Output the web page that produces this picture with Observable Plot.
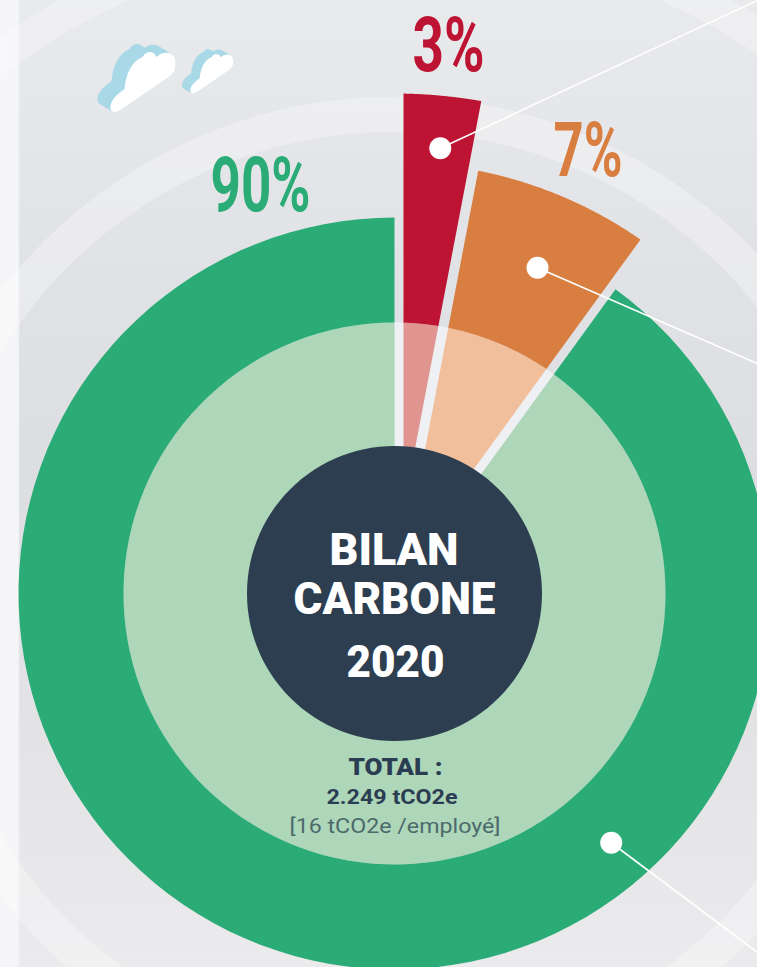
<!DOCTYPE html>
<html lang="fr">
<head>
<meta charset="utf-8">
<title>Bilan carbone 2020</title>
<script src="https://cdn.jsdelivr.net/npm/d3@7"></script>
<script src="https://cdn.jsdelivr.net/npm/@observablehq/plot@0.6"></script>
<style>
  html, body { margin: 0; padding: 0; overflow: hidden; }
  body {
    width: 757px; height: 967px;
    background:
      linear-gradient(90deg, #f6f6f8 0, #f4f5f7 18px, rgba(244,245,247,0) 20px),
      linear-gradient(180deg, #e9eaec 0%, #e1e2e6 28%, #dddee2 48%, #e3e3e6 75%, #ebebed 100%);
  }
  svg { display: block; background: transparent !important; }
</style>
</head>
<body>
<div id="chart"></div>
<script>
// Data
const categories = ["Vert", "Rouge", "Orange"];
const shares = [90, 3, 7];
const shareLabels = ["90%", "3%", "7%"];
const strongColors = ["#2bac76", "#bd1433", "#d97e41"];
const paleColors = ["#aed6b8", "#e09590", "#f1bf9c"];
const reach = [376, 500, 431];
const titleLines = ["BILAN", "CARBONE", "2020"];
const totalLines = ["TOTAL :", "2.249 tCO2e", "[16 tCO2e /employé]"];

// Slices run clockwise from 12 o'clock: red, orange, then green
const order = [1, 2, 0];
let running = 0;
const slices = order.map((i) => {
  const start = running * 3.6;
  running += shares[i];
  return {name: categories[i], start, end: running * 3.6};
});
const byName = Object.fromEntries(slices.map((s) => [s.name, s]));

const rad = Math.PI / 180;
function sector(key, start, end, inner, outer, padStart = 0, padEnd = 0) {
  const n = 120;
  const at = (r, t) => {
    const a0 = start * rad + Math.asin(padStart / r);
    const a1 = end * rad - Math.asin(padEnd / r);
    const a = a0 + t * (a1 - a0);
    return [r * Math.sin(a), r * Math.cos(a)];
  };
  return d3.range(n + 1).map((i) => {
    const [x1, y1] = at(inner, i / n);
    const [x2, y2] = at(outer, i / n);
    return {key, x1, y1, x2, y2};
  });
}
const polar = (r, deg) => ({x: r * Math.sin(deg * rad), y: r * Math.cos(deg * rad)});

const hub = 147.5, mid = 271;
const pads = {Vert: [0, 0], Rouge: [9, 7], Orange: [3, 9]};

function wedges(name) {
  const i = categories.indexOf(name);
  const s = byName[name];
  const [pa, pb] = pads[name];
  return [
    Plot.area(sector(name + "-pale", s.start, s.end, hub - 1, mid, pa, pb),
      {x1: "x1", y1: "y1", x2: "x2", y2: "y2", fill: paleColors[i], curve: "linear"}),
    Plot.area(sector(name + "-strong", s.start, s.end, mid, reach[i], pa, pb),
      {x1: "x1", y1: "y1", x2: "x2", y2: "y2", fill: strongColors[i], curve: "linear"})
  ];
}

const ring = (inner, outer, opacity) =>
  Plot.area(sector("ring", 0, 360, inner, outer),
    {x1: "x1", y1: "y1", x2: "x2", y2: "y2", fill: "#ffffff", fillOpacity: opacity});

// Isometric cloud glyph, passed to Plot.dot as a symbol; r sets its scale
const cloudSymbol = {
  draw(c, size) {
    const k = Math.sqrt(size / Math.PI) / 32;
    const P = (x, y) => [x * k, y * k];
    c.moveTo(...P(-32, 28));
    c.bezierCurveTo(...P(-33, 20), ...P(-26, 14), ...P(-18, 8));
    c.bezierCurveTo(...P(-17, -6), ...P(-11, -20), ...P(0, -24));
    c.bezierCurveTo(...P(4, -30), ...P(11, -31), ...P(14, -24));
    c.bezierCurveTo(...P(20, -30), ...P(31, -30), ...P(33, -21));
    c.bezierCurveTo(...P(34, -11), ...P(31, -7), ...P(25, -3));
    c.lineTo(...P(-22, 29));
    c.bezierCurveTo(...P(-27, 32), ...P(-31, 32), ...P(-32, 28));
    c.closePath();
  }
};
const cloudMark = (cx, cy, r, dx, dy) => [
  Plot.dot(d3.range(0, 1.001, 0.1), {
    x: (t) => cx + dx * t, y: (t) => cy + dy * t,
    r, symbol: cloudSymbol, fill: "#a9d8e6", stroke: "none"
  }),
  Plot.dot([0], {x: cx, y: cy, r, symbol: cloudSymbol, fill: "#ffffff", stroke: "none"})
];

const label = (text, x, y, size, fill, weight, family, extra = {}) =>
  Plot.text([text], {x, y, text: (d) => d, fontSize: size, fill, fontWeight: weight,
    fontFamily: family, textAnchor: "middle", lineAnchor: "bottom", stroke: "none", ...extra});

const roboto = "Roboto, sans-serif";
const navy = "#2b3d52";
const fits = {
  [shareLabels[0]]: 100, [shareLabels[1]]: 72, [shareLabels[2]]: 69,
  [titleLines[0]]: 129, [titleLines[1]]: 202, [titleLines[2]]: 98,
  [totalLines[0]]: 94, [totalLines[1]]: 131, [totalLines[2]]: 211
};

const leaders = [
  {...polar(448, 5.8), x2: 362.5, y2: 593.5},
  {...polar(356, 23.6), x2: 362.5, y2: 230.5},
  {...polar(329.6, 139), x2: 362.5, y2: -358.5}
];

const chart = Plot.plot({
  width: 757,
  height: 967,
  margin: 0,
  x: {domain: [-394.5, 362.5], range: [0, 757], axis: null},
  y: {domain: [593.5, -373.5], range: [0, 967], axis: null},
  style: {background: "transparent"},
  marks: [
    ring(462, 497, 0.3),
    ring(650, 682, 0.26),
    // cloud pair
    ...cloudMark(-252.5, 513, 32, -13, 8),
    ...cloudMark(-183.5, 521, 21, -8.5, 5),
    // separator band inside the pale ring, then slices
    Plot.area(sector("gap", 0, 36, hub - 1, mid),
      {x1: "x1", y1: "y1", x2: "x2", y2: "y2", fill: "#eef0f3"}),
    ...wedges("Vert"),
    ...wedges("Rouge"),
    ...wedges("Orange"),
    // hub
    Plot.area(sector("hub", 0, 360, 0.01, hub),
      {x1: "x1", y1: "y1", x2: "x2", y2: "y2", fill: "#2c3e50"}),
    // leaders
    Plot.link(leaders, {x1: "x", y1: "y", x2: "x2", y2: "y2", stroke: "#ffffff", strokeWidth: 1.6}),
    Plot.dot(leaders, {x: "x", y: "y", r: 11, fill: "#ffffff", stroke: "none"}),
    // share labels
    label(shareLabels[0], -134.5, 383, 76, strongColors[0], 700, roboto),
    label(shareLabels[1], 53.5, 523.5, 76, strongColors[1], 700, roboto),
    label(shareLabels[2], 193, 418.5, 76, strongColors[2], 700, roboto),
    // hub text
    label(titleLines[0], -1, 29, 44, "#ffffff", 900, roboto),
    label(titleLines[1], -0.5, -20, 44, "#ffffff", 900, roboto),
    label(titleLines[2], 0.5, -83, 44, "#ffffff", 900, roboto),
    label(totalLines[0], 0.5, -180.5, 23, navy, 900, roboto),
    label(totalLines[1], -3, -210, 21, navy, 700, roboto),
    label(totalLines[2], 0, -239, 20, "#4c6a6c", 400, roboto)
  ]
});

// Fit each label to the width measured in the picture
chart.querySelectorAll("text").forEach((t) => {
  const w = fits[t.textContent];
  if (w) {
    t.setAttribute("textLength", w);
    t.setAttribute("lengthAdjust", "spacingAndGlyphs");
  }
});
document.getElementById("chart").append(chart);
</script>
</body>
</html>
